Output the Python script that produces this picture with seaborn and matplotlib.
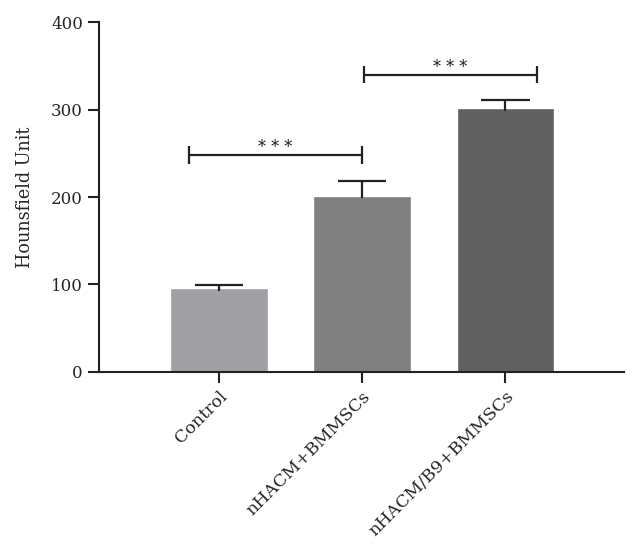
import numpy as np
import pandas as pd
import matplotlib
matplotlib.use("Agg")
import matplotlib.pyplot as plt
import seaborn as sns

groups = ["Control", "nHACM+BMMSCs", "nHACM/B9+BMMSCs"]
hu_mean = [95.6, 201.5, 301.3]
hu_err = [3.8, 16.5, 9.6]
bar_colors = ["#a0a0a4", "#808080", "#606060"]

# significance brackets: (x left, x right, height)
sig_spans = [(-0.21, 1.0, 248), (1.01, 2.22, 340)]
sig_text = ["* * *", "* * *"]

sns.set_style("ticks")
plt.rcParams["font.family"] = ["DejaVu Serif"]

df = pd.DataFrame({"group": groups, "hu": hu_mean})

fig = plt.figure(figsize=(6.38, 5.55), dpi=100)
ax = fig.add_axes([0.155, 0.33, 0.823, 0.63])

sns.barplot(data=df, x="group", y="hu", hue="group", palette=bar_colors,
            width=0.68, legend=False, ax=ax, errorbar=None, saturation=1)

# upper-only error bars
x = np.arange(len(groups))
top = np.array(hu_mean) + np.array(hu_err)
ax.vlines(x, np.array(hu_mean) - 3, top, color="#222222", lw=1.6)
ax.hlines(top, x - 0.17, x + 0.17, color="#222222", lw=1.6)

for (xl, xr, h), t in zip(sig_spans, sig_text):
    ax.plot([xl, xr], [h, h], color="#222222", lw=1.6)
    ax.vlines([xl, xr], h - 10, h + 10, color="#222222", lw=1.6)
    ax.text((xl + xr) / 2, h + 3, t, ha="center", va="baseline",
            fontsize=11.5, color="#222222")

ax.set_xlim(-0.839, 2.83)
ax.set_ylim(0, 400)
ax.set_yticks([0, 100, 200, 300, 400])
ax.set_xlabel("")
ax.set_ylabel("Hounsfield Unit", fontsize=12.7)
ax.yaxis.set_label_coords(-0.124, 0.5)
ax.tick_params(axis="y", labelsize=12)
ax.tick_params(axis="x", labelsize=12.5)
ax.tick_params(axis="both", width=1.5, length=8, color="#222222")
plt.setp(ax.get_xticklabels(), rotation=45, ha="right", rotation_mode="anchor")
for s in ["top", "right"]:
    ax.spines[s].set_visible(False)
for s in ["left", "bottom"]:
    ax.spines[s].set_linewidth(1.5)
    ax.spines[s].set_color("#222222")

fig.savefig("out.png", dpi=100)
